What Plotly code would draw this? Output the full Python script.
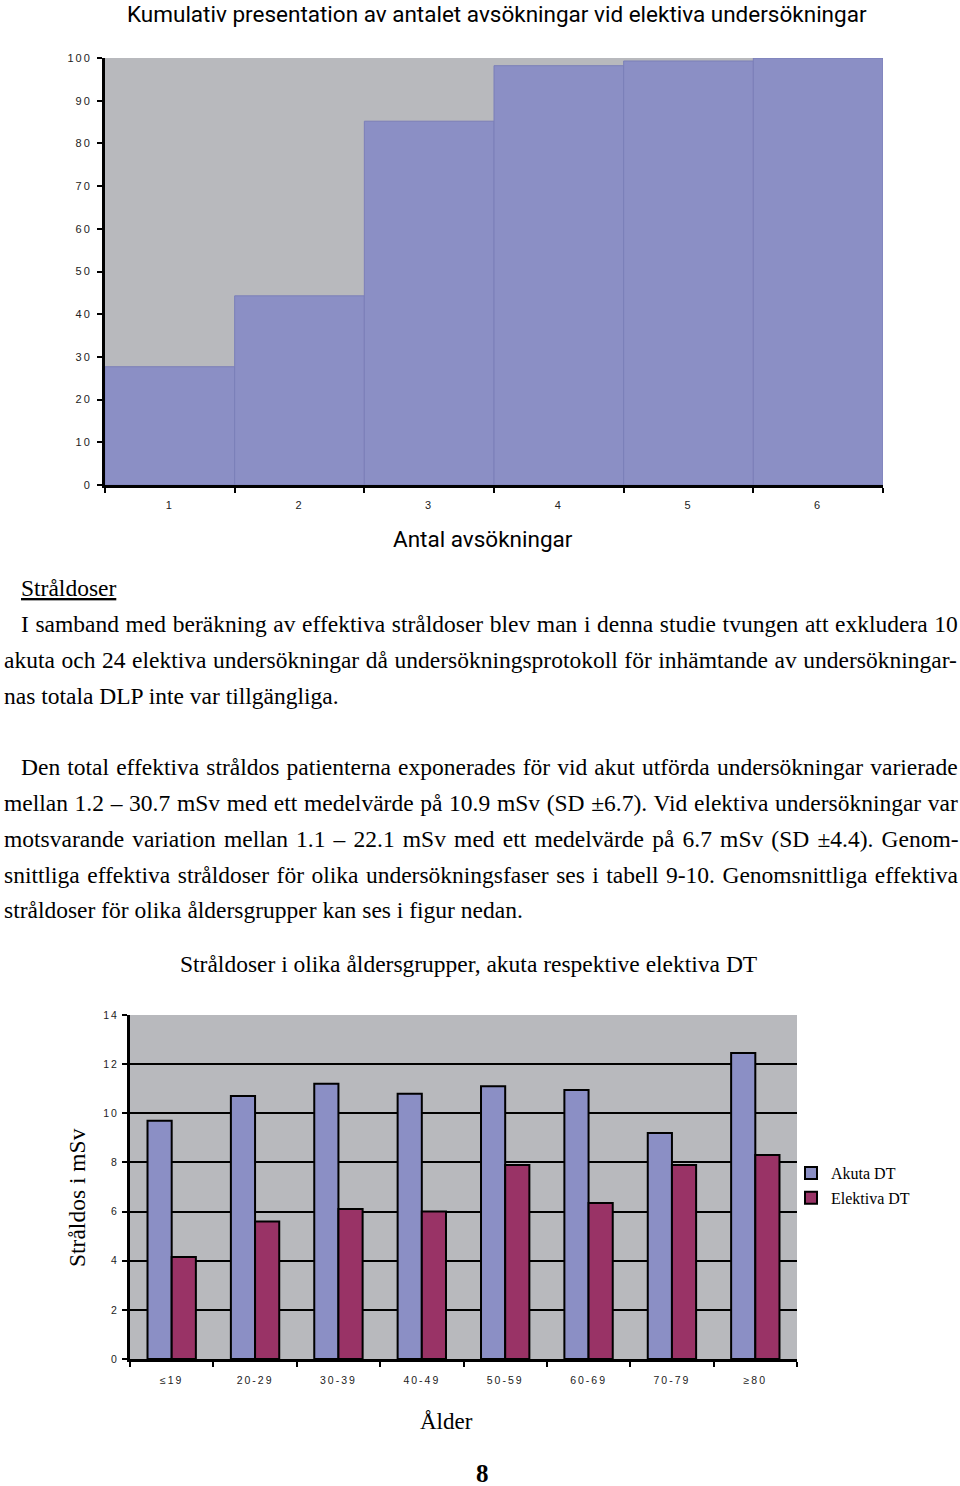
import plotly.graph_objects as go

W, H = 960, 1486

# ---- data: top chart ----
scan_counts = ["1", "2", "3", "4", "5", "6"]
cumulative_pct = [27.7, 44.3, 85.2, 98.2, 99.3, 100.0]
top_yticks = [0, 10, 20, 30, 40, 50, 60, 70, 80, 90, 100]

# ---- data: bottom chart ----
age_groups = ["≤19", "20-29", "30-39", "40-49", "50-59", "60-69", "70-79", "≥80"]
akuta_dt = [9.7, 10.7, 11.2, 10.8, 11.1, 10.95, 9.2, 12.45]
elektiva_dt = [4.15, 5.6, 6.1, 6.0, 7.9, 6.35, 7.9, 8.3]
bottom_yticks = [0, 2, 4, 6, 8, 10, 12, 14]

BAR_BLUE = "#8b8fc5"
BAR_RED = "#993366"
GREY_BG = "#b8b9bd"
SERIF = "Liberation Serif, Times New Roman, serif"
SANS = "Liberation Sans, Arial, sans-serif"
TITLE_SANS = "Roboto, sans-serif"


def px_x(p):
    return p / W


def px_y(p):
    return 1 - p / H


def spaced(s, sp=2):
    return "<span style='letter-spacing:%spx'>%s</span>" % (sp, s)


fig = go.Figure()

fig.add_trace(go.Bar(
    x=scan_counts, y=cumulative_pct, xaxis="x", yaxis="y",
    marker=dict(color=BAR_BLUE, line=dict(color="#7b7fb8", width=1)),
    width=1.0, showlegend=False,
))

fig.add_trace(go.Bar(
    x=age_groups, y=akuta_dt, xaxis="x2", yaxis="y2", name="Akuta DT",
    legendgroup="a",
    marker=dict(color=BAR_BLUE, line=dict(color="black", width=2)),
))
fig.add_trace(go.Bar(
    x=age_groups, y=elektiva_dt, xaxis="x2", yaxis="y2", name="Elektiva DT",
    legendgroup="b",
    marker=dict(color=BAR_RED, line=dict(color="black", width=2)),
))

tickfont = dict(family=SANS, size=11, color="#222")
tickfont2 = dict(family=SANS, size=10.5, color="#222")

common = dict(ticks="outside", ticklen=5, tickwidth=2, tickcolor="black",
              showline=True, linecolor="black", linewidth=3, automargin=False,
              fixedrange=True)

fig.update_layout(
    width=W, height=H,
    margin=dict(l=0, r=0, t=0, b=0, autoexpand=False),
    paper_bgcolor="white",
    barmode="group",
    bargap=0.42,
    bargroupgap=0.0,
    xaxis=dict(
        domain=[px_x(105), px_x(883)], anchor="y", type="category",
        range=[-0.5, 5.5], tickson="boundaries", tickmode="array",
        tickvals=scan_counts, ticktext=[spaced(c) for c in scan_counts],
        showgrid=False, tickfont=tickfont, ticklabelstandoff=8, **common,
    ),
    yaxis=dict(
        domain=[px_y(485), px_y(58)], anchor="x", range=[0, 100],
        tickmode="array", tickvals=top_yticks,
        ticktext=[spaced(v) for v in top_yticks], ticklabelstandoff=3,
        showgrid=False, zeroline=False, tickfont=tickfont, **common,
    ),
    xaxis2=dict(
        domain=[px_x(130), px_x(797)], anchor="y2", type="category",
        range=[-0.5, 7.5], tickson="boundaries", tickmode="array",
        tickvals=age_groups, ticktext=[spaced(a) for a in age_groups],
        showgrid=False, tickfont=tickfont2, ticklabelstandoff=9, **common,
    ),
    yaxis2=dict(
        domain=[px_y(1359), px_y(1015)], anchor="x2", range=[0, 14],
        tickmode="array", tickvals=bottom_yticks,
        ticktext=[spaced(v) for v in bottom_yticks], ticklabelstandoff=1,
        showgrid=True, gridcolor="black", gridwidth=2, zeroline=False,
        tickfont=tickfont2, **common,
    ),
    legend=dict(
        x=px_x(791), y=px_y(1156), xanchor="left", yanchor="top",
        font=dict(family=SERIF, size=16, color="black"),
        bgcolor="rgba(0,0,0,0)", tracegroupgap=1, itemwidth=30,
    ),
    plot_bgcolor=GREY_BG,
)

ann = []


def text(x, y, s, size, family=SERIF, xanchor="left", angle=0, color="black", ws=None):
    if ws:
        s = "<span style='word-spacing:%.2fpx'>%s</span>" % (ws, s)
    ann.append(dict(
        x=px_x(x), y=px_y(y), xref="paper", yref="paper", text=s,
        showarrow=False, xanchor=xanchor, yanchor="middle", textangle=angle,
        font=dict(family=family, size=size, color=color),
    ))


text(497, 14, "Kumulativ presentation av antalet avsökningar vid elektiva undersökningar", 22.5,
     family=TITLE_SANS, xanchor="center")
text(483, 539, "Antal avsökningar", 22.5, family=TITLE_SANS, xanchor="center")

FS = 23.5
text(19, 588, "<u>Stråldoser</u>", FS)
para_lines = [
    (19, 624, "I samband med beräkning av effektiva stråldoser blev man i denna studie tvungen att exkludera 10", 0.75),
    (2, 660, "akuta och 24 elektiva undersökningar då undersökningsprotokoll för inhämtande av undersökningar-", 0.7),
    (2, 696, "nas totala DLP inte var tillgängliga.", None),
    (19, 767, "Den total effektiva stråldos patienterna exponerades för vid akut utförda undersökningar varierade", 1.25),
    (2, 803, "mellan 1.2 – 30.7 mSv med ett medelvärde på 10.9 mSv (SD ±6.7). Vid elektiva undersökningar var", 0.8),
    (2, 839, "motsvarande variation mellan 1.1 – 22.1 mSv med ett medelvärde på 6.7 mSv (SD ±4.4). Genom-", 2.3),
    (2, 875, "snittliga effektiva stråldoser för olika undersökningsfaser ses i tabell 9-10. Genomsnittliga effektiva", 1.6),
    (2, 910, "stråldoser för olika åldersgrupper kan ses i figur nedan.", None),
]
for x, y, s, ws in para_lines:
    text(x, y, s, FS, ws=ws)

text(468, 964, "Stråldoser i olika åldersgrupper, akuta respektive elektiva DT", 23.5, xanchor="center")
text(77, 1198, "Stråldos i mSv", 23.5, xanchor="center", angle=-90)
text(446, 1421, "Ålder", 23, xanchor="center")
text(482, 1473, "<b>8</b>", 25, xanchor="center")

fig.update_layout(annotations=ann)

fig.write_html("out.html", config={"displayModeBar": False},
               post_script="document.body.style.margin='0';")
